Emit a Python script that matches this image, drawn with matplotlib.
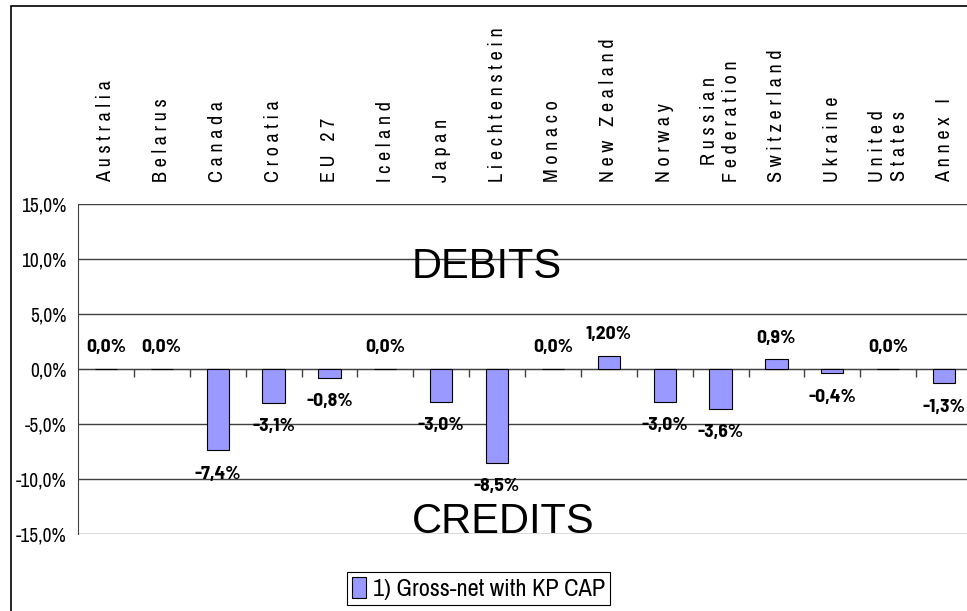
import matplotlib

matplotlib.use("Agg")
import matplotlib.pyplot as plt  # noqa: E402
from matplotlib.patches import Rectangle  # noqa: E402
from matplotlib.ticker import FuncFormatter, FixedLocator  # noqa: E402
from matplotlib.transforms import blended_transform_factory  # noqa: E402

# Gross-net with KP CAP per Party (%)
COUNTRIES = [
    "Australia", "Belarus", "Canada", "Croatia", "EU 27", "Iceland", "Japan",
    "Liechtenstein", "Monaco", "New Zealand", "Norway", "Russian\nFederation",
    "Switzerland", "Ukraine", "United\nStates", "Annex I",
]
VALUES = [0.0, 0.0, -7.4, -3.1, -0.8, 0.0, -3.0, -8.5, 0.0, 1.2, -3.0, -3.6,
          0.9, -0.4, 0.0, -1.3]
VALUE_LABELS = ["0,0%", "0,0%", "-7,4%", "-3,1%", "-0,8%", "0,0%", "-3,0%",
                "-8,5%", "0,0%", "1,20%", "-3,0%", "-3,6%", "0,9%", "-0,4%",
                "0,0%", "-1,3%"]
Y_TICKS = [-15, -10, -5, 0, 5, 10, 15]
SERIES_NAME = "1) Gross-net with KP CAP"

# Arial Narrow の代わり (Liberation Sans Narrow は未インストール)
NARROW = ["Archivo Narrow", "DejaVu Sans"]
NARROW_BOLD = ["Barlow Semi Condensed", "DejaVu Sans"]
plt.rcParams["font.family"] = NARROW
plt.rcParams["axes.unicode_minus"] = False

BAR_COLOR = "#9999FF"
GRID = "#404040"


def spaced(name):
    # Excel の字間の広いカテゴリラベルを再現
    return "\n".join(" ".join(line) for line in name.split("\n"))


fig = plt.figure(figsize=(9.67, 6.11), dpi=100)
ax = fig.add_axes([78 / 967, 77 / 611, 894 / 967, 330 / 611])

x = list(range(len(COUNTRIES)))
bars = ax.bar(x, VALUES, 0.4, color=BAR_COLOR, edgecolor="black", linewidth=0.8, zorder=3)

for xi, (v, lab) in enumerate(zip(VALUES, VALUE_LABELS)):
    if v >= 0:
        ax.annotate(lab, (xi, v), xytext=(0, 9), textcoords="offset points",
                    ha="center", va="bottom", fontsize=14, fontweight="bold",
                    family=NARROW_BOLD)
    else:
        ax.annotate(lab, (xi, v), xytext=(0, -11), textcoords="offset points",
                    ha="center", va="top", fontsize=14, fontweight="bold",
                    family=NARROW_BOLD)

ax.set_xlim(-0.5, len(COUNTRIES) - 0.5)
ax.set_ylim(-15, 15)
ax.set_yticks(Y_TICKS)
ax.yaxis.set_major_formatter(FuncFormatter(lambda v, _: f"{v:.1f}%".replace(".", ",")))
ax.tick_params(axis="y", length=0, pad=8, labelsize=14)
ax.grid(axis="y", color=GRID, linewidth=1)
ax.set_axisbelow(True)

# カテゴリ名は上側、目盛りは 0 ライン上のカテゴリ境界
ax.set_xticks(x, [spaced(c) for c in COUNTRIES])
ax.xaxis.set_minor_locator(FixedLocator([i + 0.5 for i in x]))
ax.tick_params(axis="x", which="major", length=0, bottom=False, top=False,
               labelbottom=False, labeltop=True, pad=16, labelsize=14.5,
               labelrotation=90)
ax.tick_params(axis="x", which="minor", direction="out", length=6, width=1,
               color=GRID, bottom=True, top=False)
for t in ax.get_xticklabels():
    t.set_multialignment("center")
    t.set_linespacing(0.9)

ax.spines["bottom"].set_position(("data", 0))
ax.spines["bottom"].set_color(GRID)
ax.spines["left"].set_color(GRID)
for side in ("top", "right"):
    ax.spines[side].set_visible(False)

tr = blended_transform_factory(ax.transAxes, ax.transData)
ax.text(0.3736, 8.3, "DEBITS", transform=tr, fontsize=30, family="Liberation Sans",
        va="baseline", ha="left")
ax.text(0.3736, -14.9, "CREDITS", transform=tr, fontsize=30, family="Liberation Sans",
        va="baseline", ha="left")

bars.set_label(SERIES_NAME)
leg = fig.legend(handles=[bars], loc="center", bbox_to_anchor=(478.5 / 967, 1 - 588.5 / 611),
                 fontsize=17.5, fancybox=False, edgecolor="black", framealpha=1,
                 handlelength=0.6, handleheight=0.95, handletextpad=0.3,
                 borderpad=0.2, borderaxespad=0)
leg.get_frame().set_linewidth(0.8)

# 外枠 (左と上のみ見える)
fig.add_artist(Rectangle((11 / 967, -0.1), 1.0, 1.1 - 6 / 611, transform=fig.transFigure,
                         fill=False, edgecolor="black", linewidth=1.2))

fig.savefig("out.png", dpi=100)
